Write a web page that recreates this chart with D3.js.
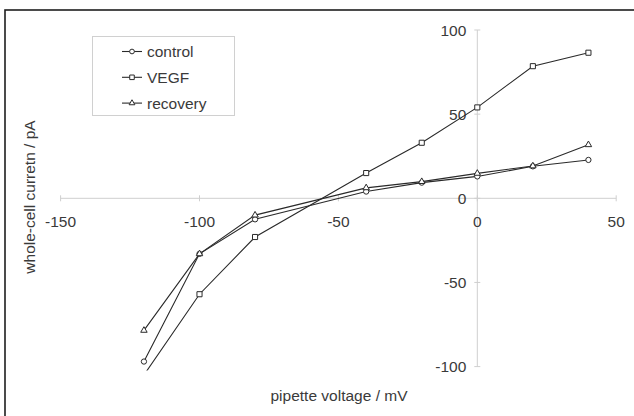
<!DOCTYPE html>
<html>
<head>
<meta charset="utf-8">
<script src="https://cdn.jsdelivr.net/npm/d3@7"></script>
<style>
  body { margin: 0; background: #fff; }
  svg { display: block; }
</style>
</head>
<body>
<svg id="chart" width="634" height="416"></svg>
<script>
// Values
const voltages = [-120, -100, -80, -40, -20, 0, 20, 40];
const controlValues = [-97, -33, -12.5, 4, 9.3, 13, 19, 22.8];
const vegfValues = [-105, -57, -23, 15, 33, 54, 78.5, 86.5];
const recoveryValues = [-78.5, -33, -10, 6.2, 9.9, 14.8, 19.2, 31.8];
const seriesNames = ["control", "VEGF", "recovery"];
const xTicks = [-150, -100, -50, 0, 50];
const yTicks = [100, 50, 0, -50, -100];

const font = "'Liberation Sans', Arial, sans-serif";
const textColor = "#3a3a3a";
const lineColor = "#2a2a2a";
const axisColor = "#cfcfcf";

const svg = d3.select("#chart");

// Outer frame (runs off the right and bottom edges)
svg.append("rect")
  .attr("x", 5)
  .attr("y", 10)
  .attr("width", 660)
  .attr("height", 440)
  .attr("fill", "#fff")
  .attr("stroke", "#1e1e1e")
  .attr("stroke-width", 1.6);

// Scales
const x = d3.scaleLinear().domain([-150, 50]).range([60.6, 616.2]);
const y = d3.scaleLinear().domain([-100, 100]).range([366.6, 30]);

// Clip for plot area
svg.append("clipPath").attr("id", "plotClip")
  .append("rect")
  .attr("x", x(-150))
  .attr("y", y(100) - 2)
  .attr("width", x(50) - x(-150))
  .attr("height", y(-100) - y(100) + 6);

// Axes crossing at zero
const axisG = svg.append("g");
axisG.append("line")
  .attr("x1", x(-150)).attr("x2", x(50))
  .attr("y1", y(0)).attr("y2", y(0))
  .attr("stroke", axisColor).attr("stroke-width", 1);
axisG.append("line")
  .attr("x1", x(0)).attr("x2", x(0))
  .attr("y1", y(100)).attr("y2", y(-100))
  .attr("stroke", axisColor).attr("stroke-width", 1);

// X ticks (cross)
axisG.selectAll(".xtick")
  .data(xTicks)
  .join("line")
  .attr("x1", d => x(d)).attr("x2", d => x(d))
  .attr("y1", y(0) - 3).attr("y2", y(0) + 3)
  .attr("stroke", axisColor);

axisG.selectAll(".xlabel")
  .data(xTicks)
  .join("text")
  .attr("x", d => x(d))
  .attr("y", y(0) + 29)
  .attr("text-anchor", "middle")
  .attr("fill", textColor)
  .attr("font-size", "15.5px")
  .attr("font-family", font)
  .text(d => d);

// Y ticks (cross)
axisG.selectAll(".ytick")
  .data(yTicks)
  .join("line")
  .attr("x1", x(0) - 3).attr("x2", x(0) + 3)
  .attr("y1", d => y(d)).attr("y2", d => y(d))
  .attr("stroke", axisColor);

axisG.selectAll(".ylabel")
  .data(yTicks)
  .join("text")
  .attr("x", x(0) - 11)
  .attr("y", d => y(d) + 5.5)
  .attr("text-anchor", "end")
  .attr("fill", textColor)
  .attr("font-size", "15.5px")
  .attr("font-family", font)
  .text(d => d);

// Axis titles
svg.append("text")
  .attr("x", 339)
  .attr("y", 401)
  .attr("text-anchor", "middle")
  .attr("fill", textColor)
  .attr("font-size", "15.5px")
  .attr("font-family", font)
  .text("pipette voltage / mV");

svg.append("text")
  .attr("transform", "translate(35,197) rotate(-90)")
  .attr("text-anchor", "middle")
  .attr("fill", textColor)
  .attr("font-size", "15.5px")
  .attr("font-family", font)
  .text("whole-cell curretn / pA");

// Series
const series = [
  { name: seriesNames[0], values: controlValues, symbol: d3.symbolCircle, size: 22 },
  { name: seriesNames[1], values: vegfValues, symbol: d3.symbolSquare, size: 26 },
  { name: seriesNames[2], values: recoveryValues, symbol: d3.symbolTriangle, size: 18 }
];

const line = d3.line()
  .x(d => x(d[0]))
  .y(d => y(d[1]));

const plot = svg.append("g").attr("clip-path", "url(#plotClip)");

series.forEach(s => {
  const pts = voltages.map((v, i) => [v, s.values[i]]);
  plot.append("path")
    .datum(pts)
    .attr("d", line)
    .attr("fill", "none")
    .attr("stroke", lineColor)
    .attr("stroke-width", 1.1);
});

series.forEach(s => {
  const pts = voltages.map((v, i) => [v, s.values[i]]);
  plot.selectAll(null)
    .data(pts)
    .join("path")
    .attr("transform", d => `translate(${x(d[0])},${y(d[1])})`)
    .attr("d", d3.symbol().type(s.symbol).size(s.size))
    .attr("fill", "#fff")
    .attr("stroke", lineColor)
    .attr("stroke-width", 1);
});

// Legend
const legend = svg.append("g");
legend.append("rect")
  .attr("x", 92.5)
  .attr("y", 36.5)
  .attr("width", 142)
  .attr("height", 79)
  .attr("fill", "#fff")
  .attr("stroke", "#d0d0d0")
  .attr("stroke-width", 1);

series.forEach((s, i) => {
  const ly = 51.5 + i * 25.8;
  legend.append("line")
    .attr("x1", 122).attr("x2", 142)
    .attr("y1", ly).attr("y2", ly)
    .attr("stroke", lineColor)
    .attr("stroke-width", 1.1);
  legend.append("path")
    .attr("transform", `translate(132,${ly})`)
    .attr("d", d3.symbol().type(s.symbol).size(s.size * 0.8))
    .attr("fill", "#fff")
    .attr("stroke", lineColor)
    .attr("stroke-width", 1);
  legend.append("text")
    .attr("x", 147)
    .attr("y", ly + 5.5)
    .attr("fill", textColor)
    .attr("font-size", "15.5px")
    .attr("font-family", font)
    .text(s.name);
});
</script>
</body>
</html>
